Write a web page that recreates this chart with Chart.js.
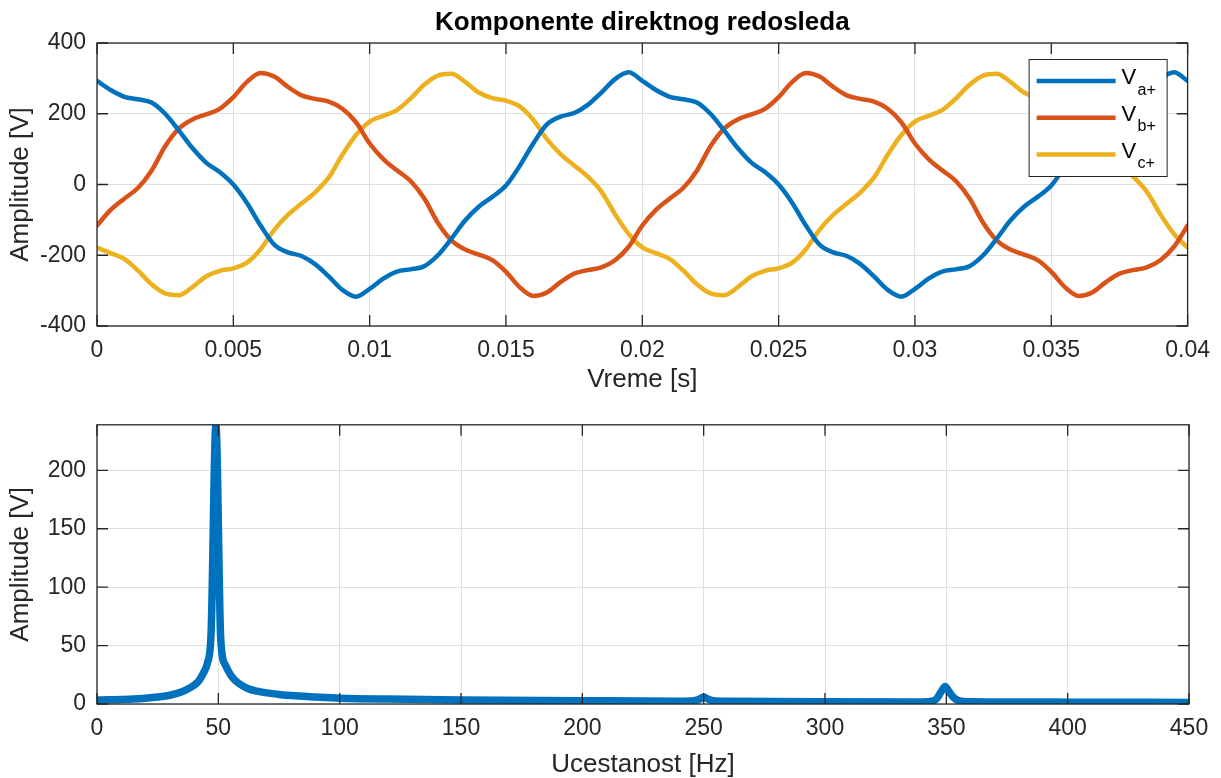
<!DOCTYPE html>
<html>
<head>
<meta charset="utf-8">
<script src="https://cdn.jsdelivr.net/npm/chart.js@4.4.0/dist/chart.umd.min.js"></script>
<style>
  html, body { margin: 0; padding: 0; background: #fff; overflow: hidden; }
  #wrap { position: relative; width: 1221px; height: 778px; }
  #wrap canvas { position: absolute; left: 0; }
</style>
</head>
<body>
<div id="wrap">
  <canvas id="timeChart" width="1221" height="400" style="top:0;width:1221px;height:400px"></canvas>
  <canvas id="fftChart" width="1221" height="378" style="top:400px;width:1221px;height:378px"></canvas>
</div>
<script>
// time axis [s]
const time = [0, 0.0005, 0.001, 0.0015, 0.002, 0.0025, 0.003, 0.0035, 0.004, 0.0045,
  0.005, 0.0055, 0.006, 0.0065, 0.007, 0.0075, 0.008, 0.0085, 0.009, 0.0095,
  0.01, 0.0105, 0.011, 0.0115, 0.012, 0.0125, 0.013, 0.0135, 0.014, 0.0145,
  0.015, 0.0155, 0.016, 0.0165, 0.017, 0.0175, 0.018, 0.0185, 0.019, 0.0195,
  0.02, 0.0205, 0.021, 0.0215, 0.022, 0.0225, 0.023, 0.0235, 0.024, 0.0245,
  0.025, 0.0255, 0.026, 0.0265, 0.027, 0.0275, 0.028, 0.0285, 0.029, 0.0295,
  0.03, 0.0305, 0.031, 0.0315, 0.032, 0.0325, 0.033, 0.0335, 0.034, 0.0345,
  0.035, 0.0355, 0.036, 0.0365, 0.037, 0.0375, 0.038, 0.0385, 0.039, 0.0395, 0.04];

// phase voltages [V]
const vA = [293, 267, 248, 241, 232, 200, 153, 103, 62, 35, 0, -52, -116, -170, -192, -202, -225, -260, -298, -317,
  -295, -266, -246, -240, -231, -200, -153, -102, -63, -35, -3, 52, 116, 170, 192, 202, 225, 260, 298, 317,
  293, 267, 248, 241, 232, 200, 153, 103, 62, 35, 0, -52, -116, -170, -192, -202, -225, -260, -298, -317,
  -295, -266, -246, -240, -231, -200, -153, -102, -63, -35, -3, 52, 116, 170, 192, 202, 225, 260, 298, 317,
  293];
const vB = [-116, -72, -40, -10, 39, 108, 158, 184, 198, 214, 247, 290, 315, 305, 276, 252, 242, 234, 214, 176,
  116, 72, 40, 10, -39, -108, -158, -184, -198, -214, -247, -290, -315, -305, -276, -252, -242, -234, -214, -176,
  -116, -72, -40, -10, 39, 108, 158, 184, 198, 214, 247, 290, 315, 305, 276, 252, 242, 234, 214, 176,
  116, 72, 40, 10, -39, -108, -158, -184, -198, -214, -247, -290, -315, -305, -276, -252, -242, -234, -214, -176,
  -116];
const vC = [-178, -194, -210, -243, -282, -308, -313, -290, -260, -244, -237, -221, -183, -128, -86, -54, -22, 20, 84, 140,
  178, 194, 210, 243, 282, 308, 313, 290, 260, 244, 237, 221, 183, 128, 86, 54, 22, -20, -84, -140,
  -178, -194, -210, -243, -282, -308, -313, -290, -260, -244, -237, -221, -183, -128, -86, -54, -22, 20, 84, 140,
  178, 194, 210, 243, 282, 308, 313, 290, 260, 244, 237, 221, 183, 128, 86, 54, 22, -20, -84, -140,
  -178];

// spectrum
const freqHz = [0, 5, 10, 15, 20, 25, 30, 35, 38, 40, 42, 44, 45.5, 47, 49, 51, 53, 55, 57, 60,
  63, 66, 70, 75, 80, 90, 100, 120, 150, 200, 240, 246, 248, 250, 252, 254, 260, 300, 340, 344,
  346, 348, 349.5, 351, 353, 355, 360, 400, 450];
const amp = [3.5, 3.6, 3.9, 4.3, 5, 6, 7.5, 10.5, 13.5, 16, 20, 27, 35, 60, 239, 55, 33, 25, 20, 15.5,
  12.5, 11, 9.5, 8.2, 7.2, 6, 5, 4.2, 3.5, 2.8, 2.4, 2.8, 3.8, 6, 4, 2.7, 2.3, 1.9, 1.8, 2.3,
  4.5, 11, 15, 11, 5.5, 3, 2, 1.6, 1.3];

// ticks
const timeTicks = [0, 0.005, 0.01, 0.015, 0.02, 0.025, 0.03, 0.035, 0.04];
const timeTickLabels = ['0', '0.005', '0.01', '0.015', '0.02', '0.025', '0.03', '0.035', '0.04'];
const voltTicks = [-400, -200, 0, 200, 400];
const freqTicks = [0, 50, 100, 150, 200, 250, 300, 350, 400, 450];
const ampTicks = [0, 50, 100, 150, 200];

const chartTitle = 'Komponente direktnog redosleda';
const seriesMain = ['V', 'V', 'V'];
const seriesSub = ['a+', 'b+', 'c+'];
const colors = ['#0072BD', '#D95319', '#EDB120'];

const FONT = "'Liberation Sans', Arial, Helvetica, sans-serif";
const axisColor = '#262626';
const gridColor = '#dfdfdf';
const tickLen = 11;

// box + inward tick marks like matlab
const matlabAxes = {
  id: 'matlabAxes',
  afterDraw(chart) {
    const { ctx, chartArea: a, scales } = chart;
    ctx.save();
    ctx.strokeStyle = axisColor;
    ctx.lineWidth = 1.3;
    ctx.beginPath();
    scales.x.ticks.forEach(t => {
      const px = scales.x.getPixelForValue(t.value);
      ctx.moveTo(px, a.bottom); ctx.lineTo(px, a.bottom - tickLen);
      ctx.moveTo(px, a.top); ctx.lineTo(px, a.top + tickLen);
    });
    scales.y.ticks.forEach(t => {
      const py = scales.y.getPixelForValue(t.value);
      ctx.moveTo(a.left, py); ctx.lineTo(a.left + tickLen, py);
      ctx.moveTo(a.right, py); ctx.lineTo(a.right - tickLen, py);
    });
    ctx.stroke();
    ctx.strokeRect(a.left, a.top, a.right - a.left, a.bottom - a.top);
    ctx.restore();
  }
};

// title centred over the plot area
const plotTitle = {
  id: 'plotTitle',
  afterDraw(chart) {
    const { ctx, chartArea: a } = chart;
    ctx.save();
    ctx.fillStyle = '#000';
    ctx.font = 'bold 26px ' + FONT;
    ctx.textAlign = 'center';
    ctx.textBaseline = 'middle';
    ctx.fillText(chartTitle, (a.left + a.right) / 2, 23);
    ctx.restore();
  }
};

// legend with subscripts
const subLegend = {
  id: 'subLegend',
  afterDraw(chart) {
    const { ctx, chartArea: a } = chart;
    const x0 = a.right - 159, y0 = a.top + 16, w = 138, h = 117;
    ctx.save();
    ctx.fillStyle = '#fff';
    ctx.fillRect(x0, y0, w, h);
    ctx.strokeStyle = axisColor;
    ctx.lineWidth = 1;
    ctx.strokeRect(x0 + 0.5, y0 + 0.5, w, h);
    chart.data.datasets.forEach((ds, i) => {
      const y = y0 + 22 + i * 36.8;
      ctx.strokeStyle = ds.borderColor;
      ctx.lineWidth = ds.borderWidth;
      ctx.beginPath();
      ctx.moveTo(x0 + 8, y);
      ctx.lineTo(x0 + 87, y);
      ctx.stroke();
      ctx.fillStyle = '#000';
      ctx.textBaseline = 'alphabetic';
      ctx.textAlign = 'left';
      ctx.font = '22px ' + FONT;
      ctx.fillText(seriesMain[i], x0 + 93, y + 3);
      ctx.font = '16px ' + FONT;
      ctx.fillText(seriesSub[i], x0 + 109, y + 13.5);
    });
    ctx.restore();
  }
};

function axisOpts(min, max, ticks, labels, title, fitSize, isX, titlePad) {
  return {
    type: 'linear',
    min: min,
    max: max,
    afterBuildTicks: (scale) => { scale.ticks = ticks.map(v => ({ value: v })); },
    afterFit: (scale) => { if (isX) scale.height = fitSize; else scale.width = fitSize; },
    ticks: {
      color: axisColor,
      font: { size: 23, family: FONT },
      padding: 11,
      maxRotation: 0,
      autoSkip: false,
      callback: (v, i) => labels ? labels[i] : String(v)
    },
    grid: { color: gridColor, lineWidth: 1, drawTicks: false },
    border: { display: false },
    title: {
      display: true,
      text: title,
      color: axisColor,
      font: { size: 26, family: FONT, lineHeight: 1 },
      padding: titlePad
    }
  };
}

new Chart(document.getElementById('timeChart'), {
  type: 'line',
  data: {
    datasets: [vA, vB, vC].map((vals, i) => ({
      label: seriesMain[i] + seriesSub[i],
      data: time.map((t, k) => ({ x: t, y: vals[k] })),
      borderColor: colors[i],
      borderWidth: 4.5,
      pointRadius: 0,
      cubicInterpolationMode: 'monotone',
      borderJoinStyle: 'round',
      borderCapStyle: 'round'
    }))
  },
  options: {
    responsive: false,
    animation: false,
    events: [],
    layout: { padding: { top: 43, right: 32, left: 0, bottom: 0 } },
    scales: {
      x: axisOpts(0, 0.04, timeTicks, timeTickLabels, 'Vreme [s]', 74, true, { top: 0, bottom: 7 }),
      y: axisOpts(-400, 400, voltTicks, null, 'Amplitude [V]', 97, false, { top: 8, bottom: 0 })
    },
    plugins: {
      legend: { display: false },
      tooltip: { enabled: false },
      title: { display: false }
    }
  },
  plugins: [matlabAxes, plotTitle, subLegend]
});

new Chart(document.getElementById('fftChart'), {
  type: 'line',
  data: {
    datasets: [{
      label: 'Spektar',
      data: freqHz.map((f, i) => ({ x: f, y: amp[i] })),
      borderColor: colors[0],
      borderWidth: 7.5,
      pointRadius: 0,
      cubicInterpolationMode: 'monotone',
      borderJoinStyle: 'round',
      borderCapStyle: 'round'
    }]
  },
  options: {
    responsive: false,
    animation: false,
    events: [],
    layout: { padding: { top: 21, right: 32, left: 0, bottom: 0 } },
    scales: {
      x: axisOpts(0, 450, freqTicks, null, 'Ucestanost [Hz]', 74, true, { top: 0, bottom: 0 }),
      y: axisOpts(0, 239, ampTicks, null, 'Amplitude [V]', 97, false, { top: 8, bottom: 0 })
    },
    plugins: {
      legend: { display: false },
      tooltip: { enabled: false }
    }
  },
  plugins: [matlabAxes]
});
</script>
</body>
</html>
